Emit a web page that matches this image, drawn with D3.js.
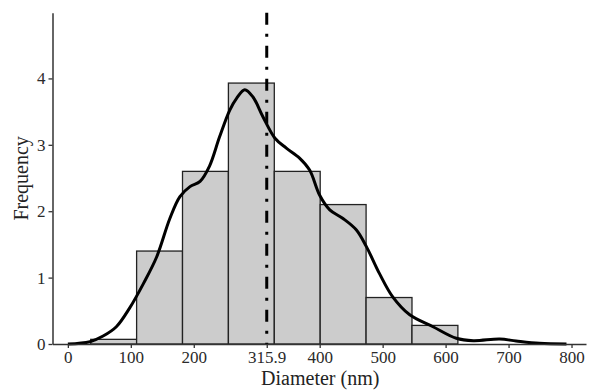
<!DOCTYPE html>
<html>
<head>
<meta charset="utf-8">
<script src="https://cdn.jsdelivr.net/npm/d3@7"></script>
<style>
  html, body { margin: 0; padding: 0; background: #fff; }
  svg { display: block; }
  text { font-family: "Liberation Serif", "DejaVu Serif", serif; }
</style>
</head>
<body>
<svg id="chart" width="589" height="390"></svg>
<script>
// Histogram bins (edges in nm) and their frequencies
const binEdges = [36.3, 109.2, 182.1, 255.0, 327.9, 400.8, 473.7, 546.6, 619.5];
const binFreq  = [0.07, 1.40, 2.60, 3.93, 2.60, 2.10, 0.70, 0.28];

// Density curve
const densX = [0, 35, 56, 77, 98, 120, 141, 162, 178, 194, 210, 225, 241, 257, 268, 281, 294, 310, 329, 347, 368, 384, 400, 416, 437, 458, 474, 495, 516, 543, 580, 617, 644, 686, 712, 749, 792];
const densY = [0.0, 0.035, 0.12, 0.26, 0.54, 0.91, 1.31, 1.89, 2.22, 2.37, 2.45, 2.68, 3.12, 3.52, 3.70, 3.83, 3.72, 3.42, 3.10, 2.95, 2.80, 2.62, 2.24, 2.02, 1.89, 1.72, 1.47, 1.06, 0.71, 0.44, 0.26, 0.086, 0.05, 0.075, 0.045, 0.01, 0.0];

// Mean diameter
const meanValue = 315.9;

// Tick values / labels
const xTicks = [0, 100, 200, 315.9, 400, 500, 600, 700, 800];
const yTicks = [0, 1, 2, 3, 4];

const svg = d3.select("#chart");

const x = d3.scaleLinear().domain([-24.4, 823]).range([52.5, 586]);
const y = d3.scaleLinear().domain([0, 4.99]).range([344, 12.7]);

// Bars
const bins = binFreq.map((f, i) => ({ x0: binEdges[i], x1: binEdges[i + 1], f }));
svg.append("g").selectAll("rect").data(bins).join("rect")
  .attr("x", d => x(d.x0))
  .attr("y", d => y(d.f))
  .attr("width", d => x(d.x1) - x(d.x0))
  .attr("height", d => y(0) - y(d.f))
  .attr("fill", "#cccccc")
  .attr("stroke", "#222")
  .attr("stroke-width", 1.3);

// Density curve
const pts = densX.map((v, i) => [v, densY[i]]);
svg.append("path")
  .datum(pts)
  .attr("fill", "none")
  .attr("stroke", "#000")
  .attr("stroke-width", 3)
  .attr("stroke-linejoin", "round")
  .attr("d", d3.line().x(d => x(d[0])).y(d => y(d[1])).curve(d3.curveCatmullRom.alpha(0.5)));

// Mean line
svg.append("line")
  .attr("x1", x(meanValue)).attr("x2", x(meanValue))
  .attr("y1", y(4.99)).attr("y2", y(0))
  .attr("stroke", "#000")
  .attr("stroke-width", 3)
  .attr("stroke-dasharray", "12,9,3,9");

// Axes
const xAxis = d3.axisBottom(x).tickValues(xTicks)
  .tickFormat(d => d === 315.9 ? "315.9" : d3.format("d")(d))
  .tickSize(4).tickPadding(3).tickSizeOuter(0);
const gx = svg.append("g").attr("transform", `translate(0,${y(0)})`).call(xAxis);
gx.select(".domain").attr("stroke", "#333").attr("stroke-width", 1.5);
gx.selectAll(".tick line").attr("stroke", "#333").attr("stroke-width", 1.3);
gx.selectAll(".tick text").attr("font-size", 17).attr("fill", "#2a2a2a")
  .attr("font-family", "Liberation Serif, serif");

const yAxis = d3.axisLeft(y).tickValues(yTicks).tickFormat(d3.format("d"))
  .tickSize(4).tickPadding(3).tickSizeOuter(0);
const gy = svg.append("g").attr("transform", `translate(${x.range()[0]},0)`).call(yAxis);
gy.select(".domain").attr("stroke", "#333").attr("stroke-width", 1.5);
gy.selectAll(".tick line").attr("stroke", "#333").attr("stroke-width", 1.3);
gy.selectAll(".tick text").attr("font-size", 17).attr("fill", "#2a2a2a")
  .attr("font-family", "Liberation Serif, serif");

// Axis titles
svg.append("text")
  .attr("x", (x.range()[0] + x.range()[1]) / 2 + 1)
  .attr("y", 385)
  .attr("text-anchor", "middle")
  .attr("font-size", 20)
  .attr("fill", "#222")
  .text("Diameter (nm)");

svg.append("text")
  .attr("transform", `translate(28,${(y.range()[0] + y.range()[1]) / 2}) rotate(-90)`)
  .attr("text-anchor", "middle")
  .attr("font-size", 20)
  .attr("fill", "#222")
  .text("Frequency");
</script>
</body>
</html>
